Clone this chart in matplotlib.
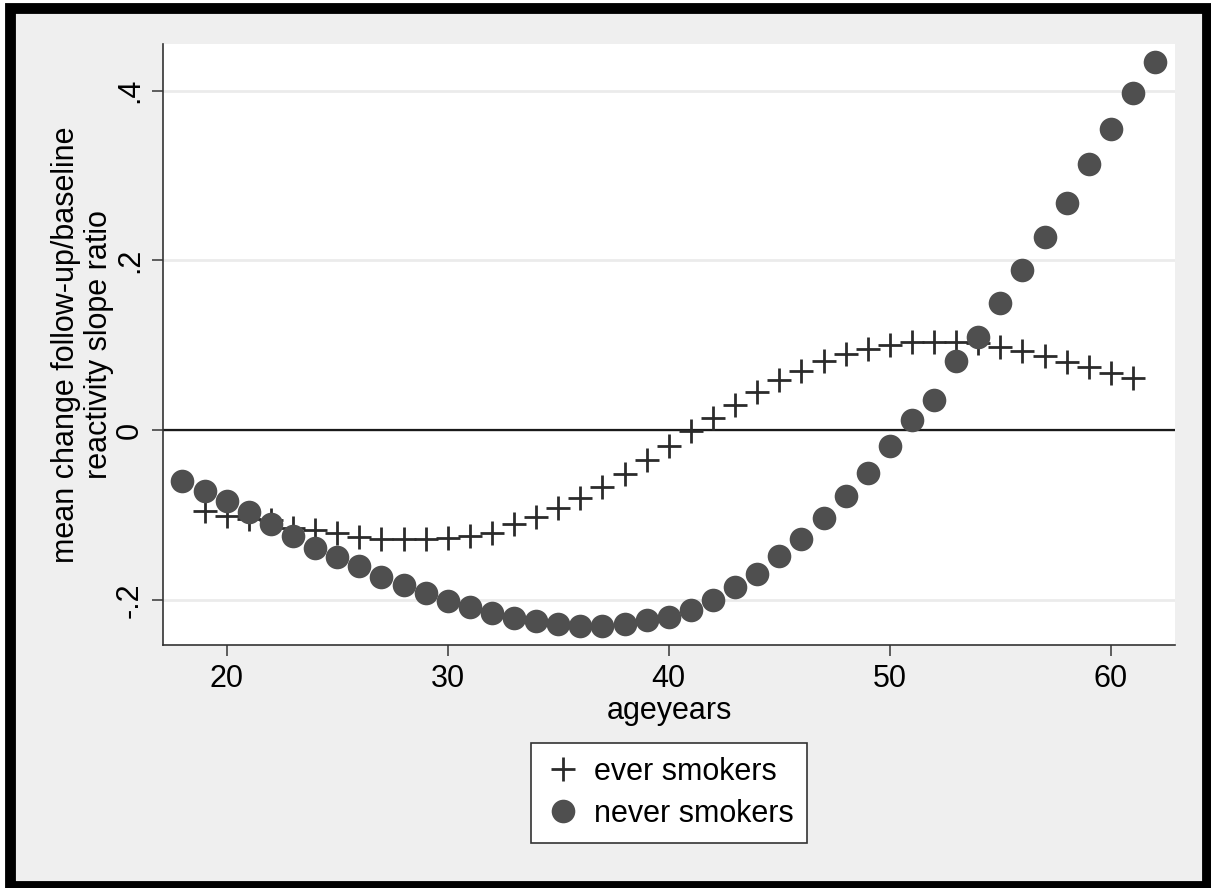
import matplotlib
matplotlib.use('Agg')
import matplotlib.pyplot as plt
from matplotlib.patches import Rectangle

plt.rcParams['font.family'] = ['Liberation Sans', 'DejaVu Sans']

# never smokers: ages 18..62
never_age = list(range(18, 63))
never_val = [-0.060, -0.071, -0.083, -0.096, -0.110, -0.125, -0.139, -0.149, -0.160, -0.173,
             -0.182, -0.192, -0.201, -0.208, -0.215, -0.221, -0.225, -0.228, -0.231, -0.231,
             -0.228, -0.223, -0.220, -0.212, -0.200, -0.185, -0.169, -0.148, -0.128, -0.103,
             -0.077, -0.050, -0.018, 0.012, 0.036, 0.081, 0.110, 0.150, 0.189, 0.228,
             0.268, 0.314, 0.355, 0.397, 0.434]

# ever smokers: ages 19..61
ever_age = list(range(19, 62))
ever_val = [-0.095, -0.101, -0.104, -0.106, -0.115, -0.118, -0.121, -0.126, -0.128, -0.128,
            -0.128, -0.127, -0.125, -0.121, -0.110, -0.102, -0.092, -0.080, -0.067, -0.051,
            -0.035, -0.018, -0.001, 0.015, 0.030, 0.045, 0.059, 0.070, 0.082, 0.090,
            0.096, 0.100, 0.104, 0.104, 0.104, 0.103, 0.098, 0.093, 0.087, 0.080,
            0.075, 0.068, 0.061]

yticks = [-0.2, 0, 0.2, 0.4]
ytick_labels = ['-.2', '0', '.2', '.4']
xticks = [20, 30, 40, 50, 60]

fig = plt.figure(figsize=(12.11, 8.88), dpi=100, facecolor='white')
# gray background with thick black frame
fig.patches.append(Rectangle((10.5 / 1211, 2.5 / 888), 1196 / 1211, 877.5 / 888,
                             transform=fig.transFigure, facecolor='#efefef',
                             edgecolor='black', linewidth=7.8, zorder=-10))

ax = fig.add_axes([163 / 1211, 243 / 888, 1012 / 1211, 601 / 888])
ax.set_facecolor('white')

ax.axhline(0, color='#1a1a1a', linewidth=1.6, zorder=2)
ax.plot(ever_age, ever_val, linestyle='none', marker='+', markersize=17,
        markeredgewidth=2.0, color='#2b2b2b', label='ever smokers', zorder=3)
ax.plot(never_age, never_val, linestyle='none', marker='o', markersize=17,
        markeredgewidth=0, color='#4f4f4f', label='never smokers', zorder=4)

ax.set_xlim(17.12, 62.9)
ax.set_ylim(-0.253, 0.455)
ax.set_xticks(xticks)
ax.set_yticks(yticks)
ax.set_yticklabels(ytick_labels, rotation=90, va='center')
ax.yaxis.grid(True, color='#ebebeb', linewidth=2)
ax.set_axisbelow(True)

for side in ['top', 'right']:
    ax.spines[side].set_visible(False)
for side in ['left', 'bottom']:
    ax.spines[side].set_color('#333333')
    ax.spines[side].set_linewidth(1.2)

ax.tick_params(axis='both', length=8, width=1.2, color='#444444', labelsize=22, pad=6)
ax.tick_params(axis='y', pad=5)

ax.set_xlabel('ageyears', fontsize=22, labelpad=1)
ax.set_ylabel('mean change follow-up/baseline\nreactivity slope ratio', fontsize=22,
              labelpad=1, linespacing=1.1)

leg = fig.legend(loc='upper center', bbox_to_anchor=(669 / 1211, 1 - 743 / 888),
                 fontsize=22, frameon=True, fancybox=False, framealpha=1,
                 borderaxespad=0, handletextpad=0.4, borderpad=0.45, labelspacing=0.4,
                 handlelength=1.2)
leg.get_frame().set_edgecolor('#333333')
leg.get_frame().set_linewidth(1.2)

fig.savefig('out.png', dpi=100, facecolor=fig.get_facecolor())
